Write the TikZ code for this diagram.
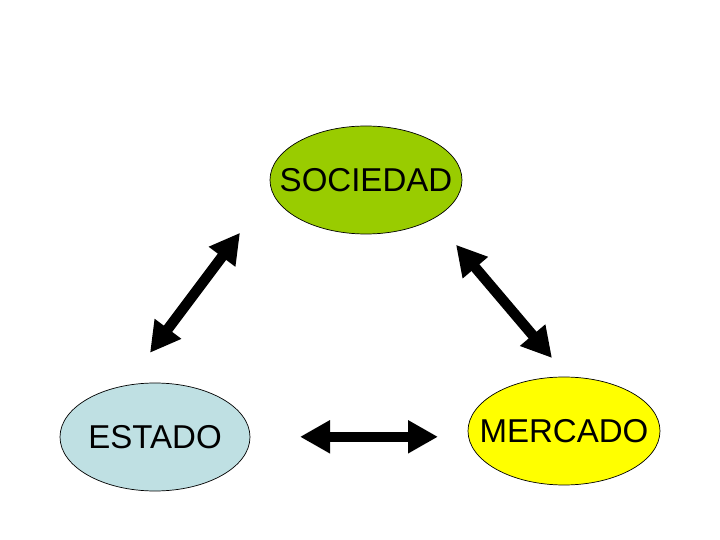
\documentclass[tikz,border=0pt]{standalone}
\usepackage{fontspec}
\setmainfont{Liberation Sans}
\usepackage{xcolor}
\usetikzlibrary{arrows.meta,shapes.geometric}

\definecolor{sociedadgreen}{HTML}{99CC00}
\definecolor{estadoblue}{HTML}{BFE0E3}
\definecolor{mercadoyellow}{HTML}{FFFF00}

\begin{document}
\begin{tikzpicture}[
  every node/.style={font=\fontsize{23.5}{28}\selectfont},
  blob/.style={ellipse, draw=black, line width=0.5pt, inner xsep=-0.5cm, inner ysep=0pt, minimum width=4.8cm, minimum height=2.7cm},
  arrow/.style={{Triangle[length=0.75cm,width=0.78cm]}-{Triangle[length=0.75cm,width=0.78cm]}, line width=0.26cm},
]

\useasboundingbox (0,0) rectangle (18,13.5);

\node[blob, fill=sociedadgreen] (sociedad) at (9.15,9.0) {SOCIEDAD};
\node[blob, fill=estadoblue, minimum width=4.75cm] (estado) at (3.875,2.575) {ESTADO};
\node[blob, fill=mercadoyellow] (mercado) at (14.1,2.725) {MERCADO};

% arrow ends, kept clear of the ellipses
\coordinate (es) at (3.75,4.68);
\coordinate (se) at (6.0,7.68);
\coordinate (sm) at (11.4,7.38);
\coordinate (ms) at (13.8,4.55);
\coordinate (em) at (7.5,2.58);
\coordinate (me) at (10.95,2.58);

\draw[arrow] (es) -- (se);
\draw[arrow] (sm) -- (ms);
\draw[arrow] (em) -- (me);

\end{tikzpicture}
\end{document}
